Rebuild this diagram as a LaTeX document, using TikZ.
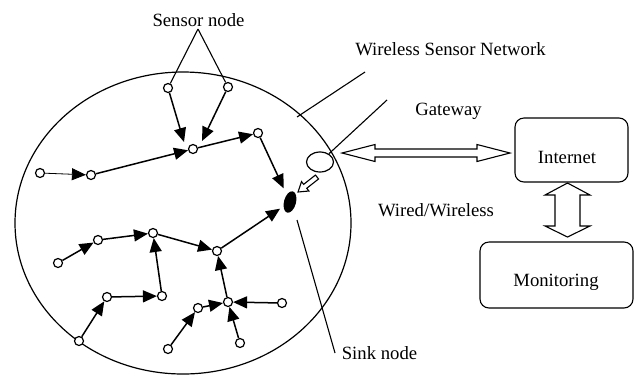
\documentclass[tikz,border=0pt]{standalone}
\usepackage{fontspec}
\setmainfont{Liberation Serif}
\usetikzlibrary{arrows.meta,shapes.geometric}
\begin{document}
\begin{tikzpicture}[x=1pt,y=-1pt,
  sn/.style={circle,draw,fill=white,line width=1.2pt,inner sep=0pt,minimum size=9pt},
  link/.style={line width=1.5pt,-{Triangle[length=14pt,width=12pt]}},
  lbl/.style={font=\fontsize{18.7}{22}\selectfont,inner sep=0pt,anchor=base},
  callout/.style={line width=1.1pt},
  box/.style={draw,rounded corners=9pt,line width=1.1pt,inner sep=0pt},
  hollow/.style={draw,fill=white,line width=1.1pt,line join=miter}]
\useasboundingbox (0,0) rectangle (639,376);
% network area
\draw[line width=1.2pt] (183,223) ellipse [x radius=168, y radius=151];
% sensor nodes
\node[sn] (a1) at (168,88) {};
\node[sn] (a2) at (228,87) {};
\node[sn] (h) at (193,149) {};
\node[sn] (l1) at (40,173) {};
\node[sn] (l2) at (91,175) {};
\node[sn] (r) at (258,133) {};
\node[sn] (b1) at (58,263) {};
\node[sn] (b2) at (98,240) {};
\node[sn] (b3) at (153,233) {};
\node[sn] (b4) at (217,251) {};
\node[sn] (c1) at (79,341) {};
\node[sn] (c2) at (107,297) {};
\node[sn] (c3) at (162,296) {};
\node[sn] (d) at (228,302) {};
\node[sn] (dl) at (198,308) {};
\node[sn] (dr) at (282,303) {};
\node[sn] (db) at (240,343) {};
\node[sn] (e) at (168,349) {};
% sink and gateway
\node[ellipse,fill=black,minimum width=12pt,minimum height=22pt,inner sep=0pt,rotate=-15] (sink) at (290,202) {};
\node[ellipse,draw,line width=1.2pt,minimum width=27pt,minimum height=20pt,inner sep=0pt] (gw) at (320,162) {};
% boxes
\node[box,minimum width=113pt,minimum height=64pt] (inet) at (571.5,150) {};
\node[box,minimum width=153pt,minimum height=66pt] (mon) at (556.5,275) {};
% links
\coordinate (h1) at (184,142);
\coordinate (h2) at (202,141);
\draw[link,line width=0.8pt] (l1) -- (l2);
\draw[link] (l2) -- (h);
\draw[link] (a1) -- (h1);
\draw[link] (a2) -- (h2);
\draw[link] (h) -- (r);
\draw[link,shorten >=7pt] (r) -- (sink);
\draw[link] (b1) -- (b2);
\draw[link] (b2) -- (b3);
\draw[link] (b3) -- (b4);
\draw[link,shorten >=4pt] (b4) -- (sink);
\draw[link] (c1) -- (c2);
\draw[link] (c2) -- (c3);
\draw[link] (c3) -- (b3);
\draw[link] (e) -- (dl);
\draw[link] (dl) -- (d);
\draw[link] (dr) -- (d);
\draw[link] (db) -- (d);
\draw[link] (d) -- (b4);
% hollow arrows
\draw[hollow] (318.55,178.96) -- (306.75,188.26) -- (308.9,191.0) -- (298,192)
  -- (301.5,181.6) -- (303.65,184.34) -- (315.45,175.04) -- cycle;
\draw[hollow] (342,153) -- (375,144.5) -- (375,149) -- (477,149) -- (477,144.5)
  -- (510,153) -- (477,161.5) -- (477,157) -- (375,157) -- (375,161.5) -- cycle;
\draw[hollow] (567.5,183) -- (590,195) -- (580,195) -- (580,226) -- (590,226)
  -- (567.5,237) -- (545,226) -- (555,226) -- (555,195) -- (545,195) -- cycle;
% callouts
\coordinate (snapex) at (198,29);
\draw[callout] (snapex) -- (a1);
\draw[callout] (snapex) -- (a2);
\coordinate (w1) at (365,72);
\coordinate (w2) at (297,117);
\draw[callout] (w1) -- (w2);
\coordinate (w3) at (387,100);
\draw[callout] (w3) -- (gw);
\coordinate (s1) at (297,220);
\coordinate (s2) at (335,353);
\draw[callout] (s1) -- (s2);
% labels
\node[lbl] (tsn) at (198.5,26.5) {Sensor node};
\node[lbl] (twsn) at (450.5,55) {Wireless Sensor Network};
\node[lbl] (tgw) at (448.5,115) {Gateway};
\node[lbl] (tinet) at (567,163) {Internet};
\node[lbl] (tww) at (436,216) {Wired/Wireless};
\node[lbl] (tmon) at (556,286) {Monitoring};
\node[lbl] (tsink) at (379.5,359) {Sink node};
\end{tikzpicture}
\end{document}
